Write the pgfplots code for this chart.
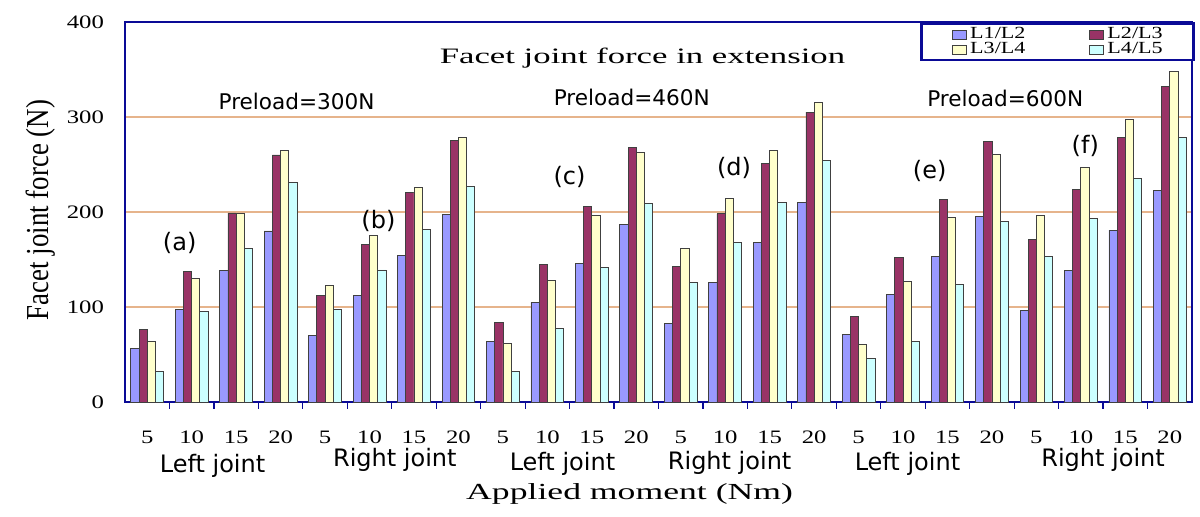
\documentclass[border=0pt]{standalone}
\usepackage{fontspec}
\usepackage{pgfplots}
\pgfplotsset{compat=1.18}
\usepackage{pgfplotstable}
\setmainfont{Liberation Serif}
\newfontfamily\sansf{DejaVu Sans}
\newfontfamily\tickf[FakeStretch=1.3]{Liberation Serif}
\newfontfamily\legf[FakeStretch=1.3]{Liberation Serif}
\newfontfamily\widef[FakeStretch=1.58]{Liberation Serif}
\newfontfamily\xlabf[FakeStretch=1.55]{Liberation Serif}
\newfontfamily\ylabf[FakeStretch=0.84]{Liberation Serif}
\definecolor{c1}{HTML}{9999FF}
\definecolor{c2}{HTML}{993366}
\definecolor{c3}{HTML}{FFFFCC}
\definecolor{c4}{HTML}{CCFFFF}
\definecolor{navyb}{HTML}{0A0A96}
\definecolor{gridc}{HTML}{E6B48C}
\newcommand{\legbox}[1]{\tikz[baseline=0pt]\draw[fill=#1,draw=black!75,line width=0.4pt] (0pt,-0.3pt) rectangle (7pt,4pt);\hspace{1.6pt}}
\pgfplotstableread{
x   a    b    c    d
0   56   76   64   32
1   97   137  130  95
2   138  199  198  162
3   180  260  265  231
4   70   112  123  97
5   112  166  175  139
6   154  221  226  182
7   197  275  278  227
8   64   84   62   32
9   105  145  128  77
10  146  206  196  142
11  187  268  263  209
12  83   143  162  126
13  126  198  214  168
14  168  251  265  210
15  210  305  315  254
16  71   90   61   46
17  113  152  127  64
18  153  213  194  124
19  195  274  261  190
20  96   171  196  153
21  138  224  247  193
22  181  278  297  235
23  223  332  348  278
}\datatable
\begin{document}
\begin{tikzpicture}
\path[use as bounding box] (0,0) rectangle (600pt,258.5pt);
\begin{axis}[
  at={(62.5pt,57.5pt)}, anchor=south west,
  scale only axis, width=533.5pt, height=190pt,
  xmin=-0.5, xmax=23.5, ymin=0, ymax=400,
  ybar=0pt, bar width=4.1pt,
  clip=false,
  axis line style={draw=navyb, line width=1.3pt},
  xtick={0,...,23},
  xticklabels={5,10,15,20,5,10,15,20,5,10,15,20,5,10,15,20,5,10,15,20,5,10,15,20},
  major x tick style={draw=none},
  minor xtick={0.5,1.5,...,22.5},
  minor tick length=3.5pt,
  minor x tick style={draw=navyb, line width=0.6pt},
  xtick pos=bottom,
  ytick={0,100,200,300,400},
  ytick pos=left,
  major y tick style={draw=none},
  ymajorgrids, grid style={draw=gridc, line width=0.6pt},
  /pgf/number format/assume math mode=true,
  xticklabel style={font=\tickf\fontsize{9.5}{10}\selectfont, yshift=-6.5pt},
  yticklabel style={font=\tickf\fontsize{9.5}{10}\selectfont, xshift=-7pt},
  every axis plot/.append style={draw=black!75, line width=0.4pt},
  legend plot pos=none,
  legend columns=2,
  legend cell align=left,
  legend style={at={(1,1)}, anchor=north east, xshift=1.5pt,
    draw=navyb, line width=1.3pt, fill=white,
    font=\legf\fontsize{8.5}{8}\selectfont,
    inner xsep=15.5pt, inner ysep=2pt, row sep=0.6pt,
    nodes={inner sep=0pt, text height=5.6pt, text depth=1.3pt},
    /tikz/every odd column/.append style={column sep=32pt}},
]
\addplot[fill=c1] table[x=x, y=a] {\datatable};
\addlegendentry{\legbox{c1}L1/L2}
\addplot[fill=c2] table[x=x, y=b] {\datatable};
\addlegendentry{\legbox{c2}L2/L3}
\addplot[fill=c3] table[x=x, y=c] {\datatable};
\addlegendentry{\legbox{c3}L3/L4}
\addplot[fill=c4] table[x=x, y=d] {\datatable};
\addlegendentry{\legbox{c4}L4/L5}

\node[font=\widef\fontsize{11}{12}\selectfont] at (axis cs:11.14,362) {Facet joint force in extension};
\node[font=\sansf\fontsize{10.8}{12}\selectfont] at (axis cs:3.36,316) {Preload=300N};
\node[font=\sansf\fontsize{10.8}{12}\selectfont] at (axis cs:10.9,321) {Preload=460N};
\node[font=\sansf\fontsize{10.8}{12}\selectfont] at (axis cs:19.3,319) {Preload=600N};
\node[font=\sansf\fontsize{12}{12}\selectfont] at (axis cs:0.73,167) {(a)};
\node[font=\sansf\fontsize{12}{12}\selectfont] at (axis cs:5.2,191) {(b)};
\node[font=\sansf\fontsize{12}{12}\selectfont] at (axis cs:9.5,237) {(c)};
\node[font=\sansf\fontsize{12}{12}\selectfont] at (axis cs:13.2,246) {(d)};
\node[font=\sansf\fontsize{12}{12}\selectfont] at (axis cs:17.6,243) {(e)};
\node[font=\sansf\fontsize{12}{12}\selectfont] at (axis cs:21.1,269) {(f)};

\node[font=\sansf\fontsize{12}{12}\selectfont] at (axis cs:1.47,-67) {Left joint};
\node[font=\sansf\fontsize{12}{12}\selectfont] at (axis cs:5.57,-61) {Right joint};
\node[font=\sansf\fontsize{12}{12}\selectfont] at (axis cs:9.34,-65) {Left joint};
\node[font=\sansf\fontsize{12}{12}\selectfont] at (axis cs:13.1,-64) {Right joint};
\node[font=\sansf\fontsize{12}{12}\selectfont] at (axis cs:17.1,-65) {Left joint};
\node[font=\sansf\fontsize{12}{12}\selectfont] at (axis cs:21.5,-61) {Right joint};

\node[font=\xlabf\fontsize{11.5}{12}\selectfont] at (axis cs:10.85,-97) {Applied moment (Nm)};
\node[font=\ylabf\fontsize{16}{16}\selectfont, rotate=90] at (axis cs:-2.40,202) {Facet joint force (N)};
\end{axis}
\end{tikzpicture}
\end{document}
